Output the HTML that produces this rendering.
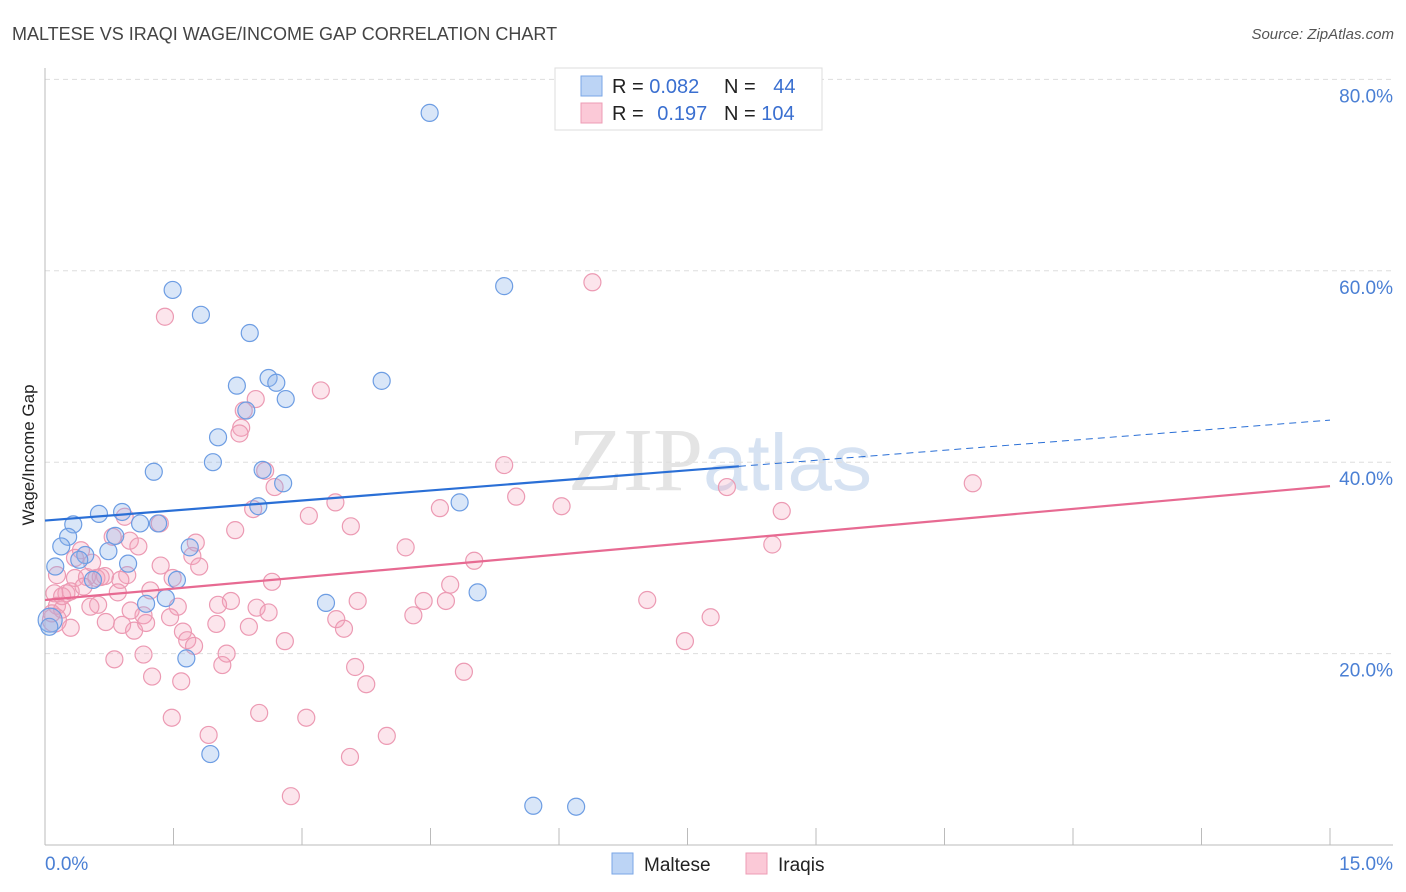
<!DOCTYPE html>
<html><head><meta charset="utf-8"><style>
body{margin:0;background:#fff;font-family:"Liberation Sans",sans-serif;}
svg{display:block}
</style></head><body>
<svg id="chart" width="1406" height="892">
<text x="12" y="40" font-size="18" fill="#444">MALTESE VS IRAQI WAGE/INCOME GAP CORRELATION CHART</text>
<text x="1394" y="39" font-size="15" fill="#555" font-style="italic" text-anchor="end">Source: ZipAtlas.com</text>
<text x="720" y="490" font-size="90" fill="#e4e4e4" text-anchor="middle" font-family="Liberation Serif">ZIP<tspan fill="#d6e2f2" font-family="Liberation Sans" font-size="80">atlas</tspan></text>
<g id="grid"></g>
<g id="axes"></g>
<g id="pts"></g>
<g id="trend"></g>
<text transform="translate(34,455) rotate(-90)" font-size="17" fill="#222" text-anchor="middle">Wage/Income Gap</text>
<g>
<rect x="555" y="68" width="267" height="62" fill="#fff" stroke="#ddd"/>
<rect x="581" y="76" width="21" height="20" fill="#bcd4f5" stroke="#7aa6e6"/>
<rect x="581" y="103" width="21" height="20" fill="#fbc9d7" stroke="#ee9cb4"/>
<text x="612" y="93" font-size="20" fill="#222">R = <tspan fill="#3a6fd0">0.082</tspan></text>
<text x="724" y="93" font-size="20" fill="#222">N = <tspan fill="#3a6fd0" dx="12">44</tspan></text>
<text x="612" y="120" font-size="20" fill="#222">R = <tspan fill="#3a6fd0" dx="8">0.197</tspan></text>
<text x="724" y="120" font-size="20" fill="#222">N = <tspan fill="#3a6fd0">104</tspan></text>
</g>
<g>
<rect x="612" y="853" width="21" height="21" fill="#bcd4f5" stroke="#7aa6e6"/>
<text x="644" y="871" font-size="19" fill="#222">Maltese</text>
<rect x="746" y="853" width="21" height="21" fill="#fbc9d7" stroke="#ee9cb4"/>
<text x="778" y="871" font-size="19" fill="#222">Iraqis</text>
</g>
</svg>
<script>
const yTicks=[20,40,60,80];
const xTickLabels=["0.0%","15.0%"];
const malteseX=[4.49,1.49,5.36,1.82,2.39,2.24,2.61,2.70,3.93,2.81,2.35,2.02,1.96,1.27,2.54,2.78,2.49,4.84,0.63,0.90,0.33,1.11,1.32,0.27,0.82,0.19,0.47,0.74,1.69,0.40,0.97,0.12,0.56,1.54,1.18,1.41,3.28,5.05,0.06,1.65,1.93,5.70,6.20,0.05];
const malteseY=[76.5,58.0,58.4,55.4,53.5,48.0,48.8,48.3,48.5,46.6,45.4,42.6,40.0,39.0,39.2,37.8,35.4,35.8,34.6,34.8,33.5,33.6,33.6,32.2,32.3,31.2,30.3,30.7,31.1,29.8,29.4,29.1,27.7,27.7,25.2,25.8,25.3,26.4,23.5,19.5,9.5,4.1,4.0,22.8];
const iraqiX=[6.39,1.40,3.22,2.46,2.32,2.29,2.27,5.36,2.57,2.68,7.96,10.83,5.50,3.39,2.43,4.61,6.03,8.60,0.93,3.08,3.57,2.22,1.34,0.79,0.99,1.09,4.21,8.49,1.76,0.42,0.35,1.72,5.01,1.80,1.35,0.14,0.35,0.49,0.60,0.65,0.70,0.96,1.49,0.88,2.65,4.73,0.85,1.23,0.11,0.25,4.42,4.68,7.03,3.65,2.17,2.02,2.47,0.62,0.53,1.55,2.61,0.14,0.20,1.15,1.46,4.30,7.77,0.71,0.90,1.18,2.00,3.40,0.30,1.04,1.61,2.38,3.49,1.66,1.74,2.80,7.47,2.12,1.15,0.81,2.07,3.62,4.89,1.25,1.59,3.75,1.48,2.50,3.05,1.91,3.99,3.56,2.87,0.11,0.08,0.20,0.30,0.45,0.55,1.00];
const iraqiY=[58.8,55.2,47.5,46.6,45.4,43.6,43.0,39.7,39.1,37.4,37.4,37.8,36.4,35.8,35.1,35.2,35.4,34.9,34.3,34.4,33.3,32.9,33.6,32.2,31.8,31.2,31.1,31.4,31.6,30.8,30.0,30.2,29.7,29.1,29.2,28.2,27.9,28.0,27.9,28.0,28.1,28.2,27.9,27.7,27.5,27.2,26.4,26.6,26.3,26.3,25.5,25.5,25.6,25.5,25.5,25.1,24.8,25.1,24.9,24.9,24.3,25.0,24.6,24.0,23.8,24.0,23.8,23.3,23.0,23.2,23.1,23.6,22.7,22.4,22.3,22.8,22.6,21.4,20.8,21.3,21.3,20.0,19.9,19.4,18.8,18.6,18.1,17.6,17.1,16.8,13.3,13.8,13.3,11.5,11.4,9.2,5.1,23.5,24.2,26.0,26.5,27.0,29.5,24.5];
const malteseTrend=[33.9,44.4];
const iraqiTrend=[25.6,37.5];
const NS="http://www.w3.org/2000/svg";
const X=v=>45+v*(1285/15);
const Y=v=>845-v*9.57;
function mk(tag,attrs,parent){const e=document.createElementNS(NS,tag);for(const k in attrs)e.setAttribute(k,attrs[k]);document.getElementById(parent).appendChild(e);return e;}
yTicks.forEach(t=>{
 const l=mk('line',{x1:45,x2:1393,y1:Y(t),y2:Y(t),stroke:'#ddd','stroke-dasharray':'5,4'},'grid');
 
 
 const tx=mk('text',{x:1393,y:Y(t)+23,'font-size':19,fill:'#4a7fd4','text-anchor':'end'},'grid');
 tx.textContent=t.toFixed(1)+'%';
 
 
});
mk('line',{x1:45,x2:45,y1:68,y2:845,stroke:'#bbb'},'axes');
mk('line',{x1:45,x2:1393,y1:845,y2:845,stroke:'#bbb'},'axes');
for(let i=1;i<=10;i++){const t=mk('line',{x1:X(i*1.5),x2:X(i*1.5),y1:828,y2:845,stroke:'#bbb'},'axes');
 
 }
const xl0=mk('text',{x:45,y:870,'font-size':19,fill:'#4a7fd4'},'axes');xl0.textContent=xTickLabels[0];

const xl1=mk('text',{x:1393,y:870,'font-size':19,fill:'#4a7fd4','text-anchor':'end'},'axes');xl1.textContent=xTickLabels[1];

iraqiX.forEach((v,i)=>{const c=mk('circle',{cx:X(v),cy:Y(iraqiY[i]),r:(i===97?12:8.5),fill:'rgba(246,160,188,0.28)',stroke:'#ec9ab3','stroke-width':1.2},'pts');
 
 });
malteseX.forEach((v,i)=>{const c=mk('circle',{cx:X(v),cy:Y(malteseY[i]),r:(i===38?12:8.5),fill:'rgba(140,180,235,0.33)',stroke:'#6d9de3','stroke-width':1.2},'pts');
 
 });
const mY=x=>malteseTrend[0]+(malteseTrend[1]-malteseTrend[0])*x/15;
const iY=x=>iraqiTrend[0]+(iraqiTrend[1]-iraqiTrend[0])*x/15;
const t1=mk('line',{x1:X(0),y1:Y(mY(0)),x2:X(8.1),y2:Y(mY(8.1)),stroke:'#2a6fd6','stroke-width':2.2},'trend');

const t2=mk('line',{x1:X(8.1),y1:Y(mY(8.1)),x2:X(15),y2:Y(mY(15)),stroke:'#2a6fd6','stroke-width':1,'stroke-dasharray':'7,5'},'trend');

const t3=mk('line',{x1:X(0),y1:Y(iY(0)),x2:X(15),y2:Y(iY(15)),stroke:'#e76a92','stroke-width':2.2},'trend');

</script>
</body></html>
